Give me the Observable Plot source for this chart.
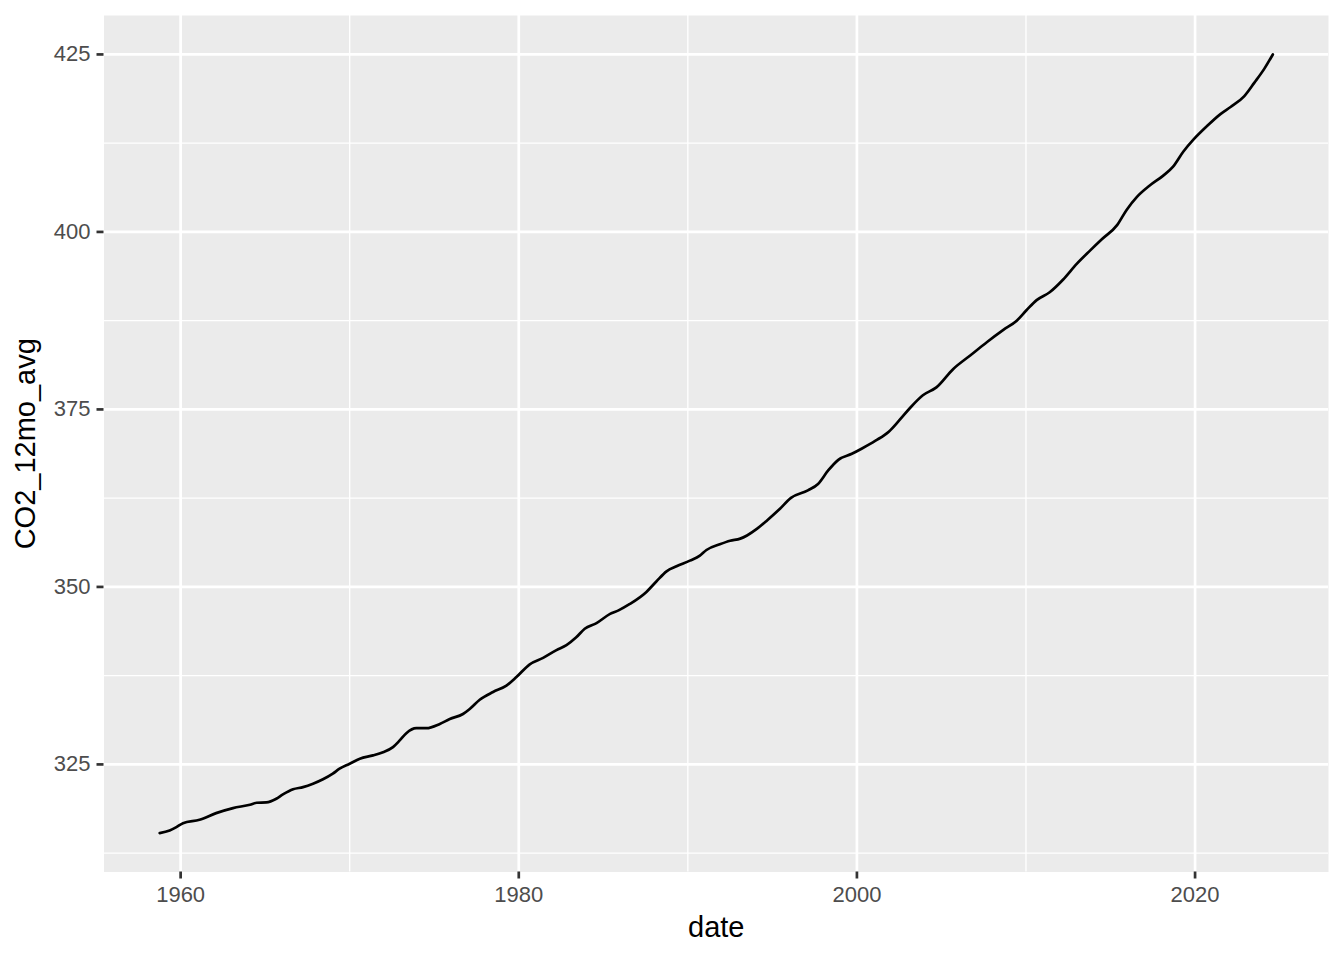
<!DOCTYPE html>
<html>
<head>
<meta charset="utf-8">
<script src="https://cdn.jsdelivr.net/npm/d3@7"></script>
<script src="https://cdn.jsdelivr.net/npm/@observablehq/plot@0.6"></script>
<style>
  html, body { margin: 0; padding: 0; background: #ffffff; }
  #chart svg { display: block; }
</style>
</head>
<body>
<div id="chart"></div>
<script>
// Decimal year of each reading
const dates = [
  1958.76, 1959.35, 1959.75, 1960.14, 1961.12, 1962.1, 1963.1, 1964.1, 1964.5, 1965.07,
  1965.66, 1966.05, 1966.65, 1967.24, 1967.83, 1968.42, 1969.0, 1969.4, 1970.0, 1970.6,
  1971.38, 1971.97, 1972.56, 1972.96, 1973.35, 1973.94, 1974.54, 1975.33, 1975.92, 1976.7,
  1977.1, 1977.69, 1978.48, 1979.27, 1979.86, 1980.65, 1981.44, 1982.23, 1982.82, 1983.4,
  1983.9, 1984.6, 1985.4, 1985.9, 1986.57, 1987.55, 1988.15, 1988.74, 1989.33, 1990.12,
  1990.71, 1991.1, 1991.89, 1992.5, 1993.1, 1993.5, 1994.1, 1994.7, 1995.4, 1996.1,
  1997.1, 1997.7, 1998.3, 1998.9, 1999.7, 2000.3, 2001.1, 2001.9, 2002.5, 2003.1,
  2003.9, 2004.7, 2005.7, 2006.7, 2007.7, 2008.66, 2009.45, 2010.04, 2010.63, 2011.4,
  2012.2, 2013.0, 2013.8, 2014.5, 2015.4, 2015.95, 2016.55, 2017.3, 2018.1, 2018.7,
  2019.3, 2019.9, 2020.7, 2021.5, 2022.1, 2022.9, 2023.5, 2024.1, 2024.6
];
// CO2 12-month average (ppm)
const co2 = [
  315.33, 315.7, 316.17, 316.73, 317.2, 318.14, 318.85, 319.32, 319.6, 319.65,
  320.17, 320.77, 321.5, 321.8, 322.28, 322.9, 323.7, 324.4, 325.1, 325.8,
  326.27, 326.73, 327.44, 328.38, 329.4, 330.1, 330.1, 330.7, 331.4, 332.1,
  332.8, 334.1, 335.2, 336.1, 337.3, 339.1, 340.0, 341.1, 341.8, 342.9,
  344.1, 344.9, 346.2, 346.7, 347.6, 349.3, 350.8, 352.2, 352.9, 353.7,
  354.4, 355.2, 356.0, 356.5, 356.8, 357.25, 358.2, 359.4, 360.9, 362.55,
  363.6, 364.5, 366.4, 367.9, 368.75, 369.5, 370.6, 371.9, 373.45, 375.1,
  377.0, 378.1, 380.7, 382.6, 384.5, 386.2, 387.5, 389.0, 390.4, 391.5,
  393.3, 395.5, 397.4, 399.0, 401.0, 403.1, 404.9, 406.5, 407.9, 409.2,
  411.3, 413.0, 414.9, 416.6, 417.6, 419.1, 421.0, 423.0, 425.0
];
const xTicks = [1960, 1980, 2000, 2020];
const xMinor = [1970, 1990, 2010];
const yTicks = [325, 350, 375, 400, 425];
const yMinor = [312.5, 337.5, 362.5, 387.5, 412.5];
const xTitle = "date";
const yTitle = "CO2_12mo_avg";

const data = dates.map((d, i) => ({date: d, value: co2[i]}));

const xExt = d3.extent(dates), yExt = d3.extent(co2);
const xPad = (xExt[1] - xExt[0]) * 0.05, yPad = (yExt[1] - yExt[0]) * 0.05;

const FONT = "'Liberation Sans', Arial, sans-serif";

const chart = Plot.plot({
  width: 1344,
  height: 960,
  marginLeft: 103.5,
  marginRight: 16,
  marginTop: 15,
  marginBottom: 88.5,
  style: {fontFamily: FONT, background: "#ffffff", overflow: "visible"},
  x: {domain: [xExt[0] - xPad, xExt[1] + xPad]},
  y: {domain: [yExt[0] - yPad, yExt[1] + yPad]},
  marks: [
    Plot.frame({fill: "#EBEBEB", stroke: null}),
    Plot.gridX(xMinor, {stroke: "#ffffff", strokeOpacity: 1, strokeWidth: 1.35}),
    Plot.gridY(yMinor, {stroke: "#ffffff", strokeOpacity: 1, strokeWidth: 1.35}),
    Plot.gridX(xTicks, {stroke: "#ffffff", strokeOpacity: 1, strokeWidth: 2.7}),
    Plot.gridY(yTicks, {stroke: "#ffffff", strokeOpacity: 1, strokeWidth: 2.7}),
    Plot.line(data, {x: "date", y: "value", stroke: "#000000", strokeWidth: 2.7, curve: "monotone-x"}),
    Plot.axisX(xTicks, {
      tickSize: 7, tickPadding: 7.5, stroke: "#333333", strokeWidth: 2.7,
      tickFormat: d => String(d), fontSize: 22, fill: "#4D4D4D", label: null
    }),
    Plot.axisY(yTicks, {
      tickSize: 7, tickPadding: 6.5, stroke: "#333333", strokeWidth: 2.7,
      tickFormat: d => String(d), fontSize: 22, fill: "#4D4D4D", label: null
    }),
    Plot.text([xTitle], {text: d => d, frameAnchor: "bottom", dy: 55.5, fontSize: 29, fill: "#000000", lineAnchor: "middle", textAnchor: "middle"}),
    Plot.text([yTitle], {text: d => d, frameAnchor: "left", dx: -78, rotate: -90, fontSize: 29, fill: "#000000", lineAnchor: "middle", textAnchor: "middle"})
  ]
});

document.getElementById("chart").appendChild(chart);
</script>
</body>
</html>
